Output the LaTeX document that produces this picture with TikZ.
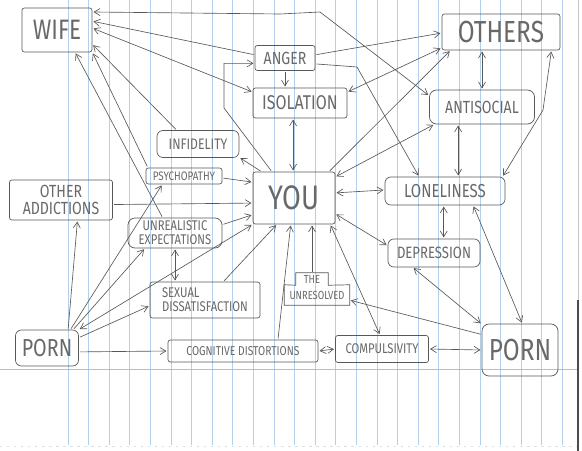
\documentclass[tikz,border=0pt]{standalone}
\usepackage{fontspec}
\setmainfont{Fira Sans}[FakeStretch=0.8]
\usetikzlibrary{arrows.meta}
\definecolor{pencil}{RGB}{88,88,88}
\definecolor{ruleblue}{RGB}{178,208,236}
\definecolor{rulered}{RGB}{242,165,175}
\tikzset{txt/.style 2 args={text=pencil!90, inner sep=0pt, align=center,
                minimum width=#1*0.03cm, minimum height=#2*0.03cm},
         box/.style 2 args={txt={#1}{#2}, draw=pencil, line width=0.6pt,
                rounded corners=2pt},
         fs/.style={font=\fontsize{#1}{#1}\selectfont},
         link/.style={draw=pencil, line width=0.55pt,
                shorten >=1pt, shorten <=1pt,
                >={Straight Barb[length=5pt,width=6pt]}}}

\begin{document}
\begin{tikzpicture}[x=0.03cm,y=-0.03cm]
   \useasboundingbox (0,0) rectangle (582,451);
   \fill[white] (0,0) rectangle (582,451);
   \foreach \k in {0,...,24}
      \draw[ruleblue, line width=0.6pt] ({68+20.6*\k},0) -- ({68+20.6*\k},445);
   \draw[rulered, line width=0.6pt] (0,369) -- (578,369);
   \draw[gray!25, line width=0.8pt, dash pattern=on 2pt off 4pt] (0,446) -- (578,446);
   \draw[gray!45, line width=0.8pt] (578,0) -- (578,300);
   \draw[black!70, line width=1.6pt] (578,300) -- (578,451);

   \node at (57,30)   [box={70}{44}, fs=24] (wife) {WIFE};
   \node at (285,58)  [box={60}{25}, fs=15] (anger) {ANGER};
   \node at (300,103) [box={94}{30}, fs=17] (isolation) {ISOLATION};
   \node at (501,32)  [box={118}{36}, fs=26] (others) {OTHERS};
   \node at (482,107) [box={105}{34}, fs=15, rounded corners=6pt] (antisocial) {ANTISOCIAL};
   \node at (198,144) [box={82}{27}, fs=13, rounded corners=5pt] (infidelity) {INFIDELITY};
   \node at (184,176) [box={76}{16}, fs=10.5] (psycho) {PSYCHOPATHY};
   \node at (294,198) [box={82}{52}, fs=29] (you) {YOU};
   \node at (445,191) [box={120}{28}, fs=16, rounded corners=5pt] (loneliness) {LONELINESS};
   \node at (61,200)  [box={103}{40}, fs=15] (otheradd) {OTHER\\ADDICTIONS};
   \node at (175,233) [box={94}{30}, fs=12, rounded corners=6pt] (unreal) {UNREALISTIC\\EXPECTATIONS};
   \node at (434,253) [box={92}{28}, fs=14, rounded corners=5pt] (depression) {DEPRESSION};
   \node at (205,300) [box={110}{36}, fs=12, align=left] (sexual) {SEXUAL\\DISSATISFACTION};
   \node at (317,295) [txt={65}{20}, fs=10] (unresolved) {UNRESOLVED};
   \node at (312,279) [txt={32}{12}, fs=10] (unrestop) {THE};
   \node at (47,348)  [box={63}{36}, fs=21, rounded corners=5pt] (pornL) {PORN};
   \node at (243,351) [box={150}{22}, fs=11] (cogdist) {COGNITIVE DISTORTIONS};
   \node at (382,349) [box={93}{27}, fs=12] (compuls) {COMPULSIVITY};
   \node at (520,350) [box={76}{52}, fs=26, rounded corners=6pt] (pornR) {PORN};

   \draw[pencil, line width=0.6pt]
      (unresolved.south west) -- (unresolved.north west) -- (unrestop.south west)
      -- (unrestop.north west) -- (unrestop.north east) -- (unrestop.south east)
      -- (unresolved.north east) -- (unresolved.south east) -- cycle;

   % into YOU
   \draw[link,->] (otheradd.-5) -- (you.187);
   \draw[link,->] (psycho.-3) -- (you.159);
   \draw[link,->] (unreal.10) -- (you.202);
   \draw[link,<->] (pornL.30) -- (you.south west);
   \draw[link,->] (sexual.45) -- (you.237);
   \draw[link,->] (cogdist.18) -- (you.263);
   \draw[link,->] (unrestop.north) -- (unrestop.north |- you.south);
   \draw[link,<->] (you.-36) -- (compuls.98);
   \draw[link,<->] (you.-21) -- (depression.171);
   \draw[link,<->] (you.7) -- (loneliness.179);
   \draw[link,<->] (you.27) -- (antisocial.200);
   \draw[link,->] (you.37) -- (others.200);
   \draw[link,<->] (you.92) -- (you.92 |- isolation.south);
   \draw[link,->] (you.141) -- (infidelity.-18);
   \draw[link,->] (you.130) -- (224,108) |- (anger.190);

   % top
   \draw[link,->] (anger.south) -- (anger.south |- isolation.north);
   \draw[link,->] (anger.6) -- (others.181);
   \draw[link,->] (anger.-11) -- (357,67) -- (loneliness.151);
   \draw[link,->] (anger.174) -- (wife.14);
   \draw[link,<->] (isolation.167) -- (wife.3);
   \draw[link,<->] (isolation.13) -- (others.195);
   \draw[link,<->] (wife.27) -- (280,14) -- (320,12) -- (antisocial.168);
   \draw[link,<->] (antisocial.north) -- (antisocial.north |- others.south);
   \draw[link,<->] (antisocial.216) -- (antisocial.216 |- loneliness.north);
   \draw[link,<->] (others.-20) -- (543,110) -- (loneliness.14);

   % right
   \draw[link,<->] (loneliness.265) -- (loneliness.265 |- depression.north);
   \draw[link,<->] (loneliness.-27) -- (pornR.85);
   \draw[link,<->] (depression.214) -- (pornR.146);
   \draw[link,->] (pornR.158) -- (unresolved.-9);
   \draw[link,<->] (compuls.east) -- (pornR.west);
   \draw[link,<->] (cogdist.east) -- (compuls.west);

   % left
   \draw[link,->] (pornL.-7) -- (cogdist.west);
   \draw[link,->] (pornL.18) -- (sexual.186);
   \draw[link,->] (pornL.35) -- (unreal.207);
   \draw[link,->] (pornL.38) -- (psycho.201);
   \draw[link,->] (pornL.41) -- (otheradd.309);
   \draw[link,<->] (unreal.south) -- (unreal.south |- sexual.north);
   \draw[link,->] (infidelity.147) -- (wife.338);
   \draw[link,->] (psycho.167) -- (wife.south east);
   \draw[link,->] (unreal.129) -- (wife.309);
\end{tikzpicture}
\end{document}
